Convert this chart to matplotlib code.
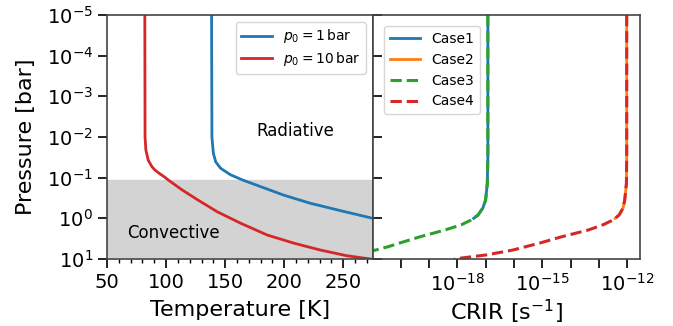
import numpy as np
import matplotlib
matplotlib.use("Agg")
import matplotlib.pyplot as plt
from matplotlib.ticker import LogLocator, NullLocator, MultipleLocator, FuncFormatter

# temperature profiles: log10(pressure / bar) and T in K
logp_1bar = [-5.0, -2.0, -1.6, -1.39, -1.23, -1.07, -0.94, -0.78, -0.57, -0.37, -0.19, 0.0]
T_1bar = [138.5, 138.8, 140.0, 142.0, 146.2, 154.6, 165.0, 180.0, 199.6, 222.2, 247.5, 275.0]
logp_10bar = [-5.0, -2.0, -1.68, -1.43, -1.27, -1.19, -1.10, -1.02, -0.94, -0.70,
              -0.45, -0.16, 0.12, 0.41, 0.61, 0.78, 0.92, 1.0]
T_10bar = [82.0, 82.2, 82.9, 84.9, 88.0, 90.5, 94.5, 98.5, 102.0, 113.5,
           127.0, 143.4, 163.1, 185.6, 208.1, 230.6, 253.1, 273.0]

# CRIR profiles: log10(pressure / bar) and log10(CRIR / s^-1)
logp_case1 = [-5.0, -1.5, -0.86, -0.45, -0.25, -0.08, 0.0]
crir_case1 = [-16.92, -16.92, -16.94, -17.0, -17.10, -17.27, -17.42]
logp_case2 = [-5.0, -1.5, -0.86, -0.45, -0.25, -0.08, 0.0]
crir_case2 = [-12.02, -12.02, -12.03, -12.09, -12.15, -12.29, -12.43]
logp_case3 = [-5.0, -1.5, -0.86, -0.45, -0.25, -0.08, 0.04, 0.16, 0.30, 0.45,
              0.60, 0.70, 0.82, 0.90, 1.0]
crir_case3 = [-16.92, -16.92, -16.94, -17.0, -17.10, -17.27, -17.51, -17.86, -18.5, -19.3,
              -20.0, -20.45, -21.1, -21.9, -22.9]
logp_case4 = [-5.0, -1.5, -0.86, -0.45, -0.25, -0.08, 0.04, 0.16, 0.29, 0.45,
              0.61, 0.78, 0.90, 0.98, 1.0]
crir_case4 = [-12.02, -12.02, -12.03, -12.09, -12.15, -12.29, -12.5, -12.86, -13.39, -14.3,
              -15.1, -16.04, -16.98, -17.9, -18.1]

fig = plt.figure(figsize=(6.73, 3.26), dpi=100)
ax1 = fig.add_axes([0.159, 0.2055, 0.395, 0.7485])
ax2 = fig.add_axes([0.554, 0.2055, 0.397, 0.7485], sharey=ax1)

# left panel: temperature
ax1.axhspan(0.117, 9.0, color="lightgray", zorder=0)
ax1.plot(T_1bar, 10.0**np.array(logp_1bar), color="tab:blue", lw=2,
         label=r"$p_0 = 1\,\mathrm{bar}$")
ax1.plot(T_10bar, 10.0**np.array(logp_10bar), color="tab:red", lw=2,
         label=r"$p_0 = 10\,\mathrm{bar}$")
ax1.set_yscale("log")
ax1.set_ylim(10, 1e-5)
ax1.set_xlim(50, 275)
ax1.xaxis.set_major_locator(MultipleLocator(50))
ax1.xaxis.set_minor_locator(MultipleLocator(10))
ax1.yaxis.set_major_locator(LogLocator(base=10, numticks=20))
ax1.yaxis.set_minor_locator(NullLocator())
ax1.text(209, 10**-2.15, "Radiative", fontsize=12, ha="center", va="center")
ax1.text(106, 10**0.36, "Convective", fontsize=12, ha="center", va="center")
ax1.set_xlabel("Temperature [K]", fontsize=16, labelpad=6)
ax1.set_ylabel("Pressure [bar]", fontsize=16, labelpad=8)
ax1.legend(loc="upper right", fontsize=10, handlelength=2.2, labelspacing=0.35,
           borderaxespad=0.5)

# right panel: CRIR
ax2.plot(10.0**np.array(crir_case1), 10.0**np.array(logp_case1), color="tab:blue", lw=2, label="Case1")
ax2.plot(10.0**np.array(crir_case2), 10.0**np.array(logp_case2), color="tab:orange", lw=2, label="Case2")
ax2.plot(10.0**np.array(crir_case3), 10.0**np.array(logp_case3), color="tab:green", lw=2.2, ls="--", label="Case3")
ax2.plot(10.0**np.array(crir_case4), 10.0**np.array(logp_case4), color="tab:red", lw=2.2, ls="--", label="Case4")
ax2.set_xscale("log")
ax2.set_xlim(10**-20.98, 10**-11.55)
ax2.xaxis.set_major_locator(LogLocator(base=10, numticks=30))
ax2.xaxis.set_minor_locator(NullLocator())
ax2.xaxis.set_major_formatter(FuncFormatter(
    lambda v, pos: r"$10^{%d}$" % round(np.log10(v)) if round(np.log10(v)) % 3 == 0 else ""))
ax2.tick_params(axis="y", direction="in", labelleft=False)
ax2.set_xlabel(r"CRIR [s$^{-1}$]", fontsize=16, labelpad=2)
ax2.legend(loc="upper left", fontsize=10, handlelength=2.2, borderaxespad=0.8)

for ax in (ax1, ax2):
    ax.tick_params(which="major", labelsize=14, length=6.5, width=1.2)
    ax.tick_params(which="minor", length=3, width=1)
    for s in ax.spines.values():
        s.set_color("#444444")
        s.set_linewidth(1.2)

fig.savefig("out.png", dpi=100)
